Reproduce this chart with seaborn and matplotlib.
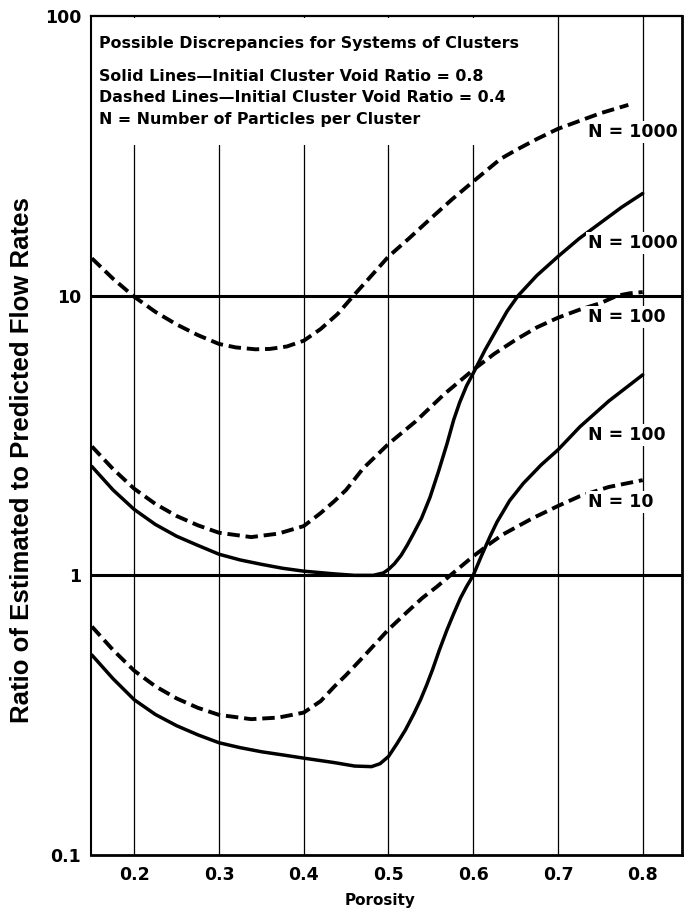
import matplotlib
matplotlib.use("Agg")
import matplotlib.pyplot as plt
from matplotlib.patches import Rectangle
from matplotlib.ticker import NullLocator
import seaborn as sns

# Porosity axis ticks
porosity_ticks = [0.2, 0.3, 0.4, 0.5, 0.6, 0.7, 0.8]
porosity_tick_labels = ["0.2", "0.3", "0.4", "0.5", "0.6", "0.7", "0.8"]
ratio_ticks = [0.1, 1, 10, 100]
ratio_tick_labels = ["0.1", "1", "10", "100"]

# Dashed, N = 1000 (initial cluster void ratio 0.4)
porosity_d1000 = [0.15, 0.175, 0.2, 0.225, 0.25, 0.275, 0.3, 0.32, 0.343, 0.36, 0.38, 0.4,
                  0.42, 0.44, 0.46, 0.48, 0.5, 0.525, 0.55, 0.575, 0.6, 0.632, 0.65, 0.675,
                  0.7, 0.75, 0.783]
ratio_d1000 = [13.6, 11.5, 9.91, 8.75, 7.89, 7.23, 6.72, 6.53, 6.43, 6.45, 6.58, 6.9,
               7.6, 8.6, 10.1, 11.8, 13.8, 16.1, 18.9, 22.1, 25.6, 30.8, 33.1, 36.3,
               39.5, 44.9, 48.1]

# Solid, N = 1000 (initial cluster void ratio 0.8)
porosity_s1000 = [0.15, 0.175, 0.2, 0.225, 0.25, 0.275, 0.3, 0.325, 0.35, 0.375, 0.4, 0.436,
                  0.46, 0.482, 0.494, 0.5, 0.507, 0.515, 0.522, 0.529, 0.539, 0.549, 0.559,
                  0.569, 0.577, 0.584, 0.592, 0.6, 0.614, 0.628, 0.64, 0.653, 0.675, 0.7,
                  0.725, 0.75, 0.775, 0.8]
ratio_s1000 = [2.45, 2.02, 1.72, 1.52, 1.38, 1.28, 1.19, 1.135, 1.095, 1.06, 1.035, 1.012,
               1.0, 1.0, 1.02, 1.05, 1.1, 1.18, 1.28, 1.4, 1.6, 1.9, 2.35,
               2.95, 3.6, 4.15, 4.75, 5.28, 6.4, 7.6, 8.8, 10.0, 11.8, 13.8,
               16.0, 18.2, 20.7, 23.2]

# Dashed, N = 100
porosity_d100 = [0.15, 0.175, 0.2, 0.225, 0.25, 0.275, 0.3, 0.338, 0.37, 0.4, 0.42, 0.436,
                 0.45, 0.47, 0.5, 0.532, 0.566, 0.6, 0.625, 0.65, 0.675, 0.7, 0.725, 0.75,
                 0.77, 0.785, 0.8]
ratio_d100 = [2.89, 2.4, 2.04, 1.8, 1.63, 1.51, 1.42, 1.37, 1.41, 1.5, 1.67, 1.84,
              2.02, 2.41, 2.95, 3.55, 4.45, 5.43, 6.2, 6.95, 7.7, 8.34, 8.9, 9.4,
              10.0, 10.2, 10.3]

# Solid, N = 100
porosity_s100 = [0.15, 0.175, 0.2, 0.225, 0.25, 0.275, 0.3, 0.325, 0.35, 0.375, 0.4, 0.436,
                 0.46, 0.48, 0.49, 0.5, 0.51, 0.52, 0.53, 0.538, 0.545, 0.552, 0.56, 0.569,
                 0.577, 0.585, 0.592, 0.6, 0.61, 0.62, 0.628, 0.643, 0.659, 0.68, 0.7,
                 0.726, 0.76, 0.8]
ratio_s100 = [0.519, 0.427, 0.359, 0.318, 0.29, 0.269, 0.252, 0.242, 0.234, 0.228, 0.222, 0.214,
              0.208, 0.207, 0.212, 0.225, 0.25, 0.28, 0.32, 0.36, 0.405, 0.46, 0.54, 0.638,
              0.73, 0.83, 0.91, 1.0, 1.18, 1.38, 1.55, 1.85, 2.13, 2.48, 2.81,
              3.4, 4.2, 5.21]

# Dashed, N = 10
porosity_d10 = [0.15, 0.175, 0.2, 0.225, 0.25, 0.275, 0.3, 0.338, 0.37, 0.4, 0.42, 0.436,
                0.45, 0.47, 0.5, 0.52, 0.54, 0.557, 0.573, 0.6, 0.62, 0.635, 0.67, 0.7,
                0.726, 0.76, 0.8]
ratio_d10 = [0.656, 0.541, 0.456, 0.401, 0.363, 0.336, 0.317, 0.306, 0.31, 0.323, 0.355, 0.4,
             0.44, 0.51, 0.64, 0.73, 0.83, 0.91, 1.0, 1.17, 1.3, 1.4, 1.6, 1.77,
             1.92, 2.07, 2.19]

curve_labels = ["N = 1000", "N = 1000", "N = 100", "N = 100", "N = 10"]

sns.set_theme(style="white")
plt.rcParams["font.family"] = ["DejaVu Sans"]
plt.rcParams["font.weight"] = "bold"

fig = plt.figure(figsize=(6.84, 9.14), dpi=100)
ax = fig.add_axes([91 / 684, 59 / 914, 590.7 / 684, 839 / 914])

dash = (0, (3.2, 1.5))
series = [
    (porosity_d1000, ratio_d1000, dash, 2.8),
    (porosity_s1000, ratio_s1000, "-", 2.5),
    (porosity_d100, ratio_d100, dash, 2.8),
    (porosity_s100, ratio_s100, "-", 2.5),
    (porosity_d10, ratio_d10, dash, 2.8),
]
for xs, ys, ls, lw in series:
    sns.lineplot(x=xs, y=ys, ax=ax, color="black", linestyle=ls, linewidth=lw,
                 estimator=None, sort=False, zorder=3)

ax.set_yscale("log")
ax.set_ylim(0.1, 100)
ax.set_xlim(0.149, 0.846)
ax.set_yticks(ratio_ticks)
ax.set_yticklabels(ratio_tick_labels)
ax.yaxis.set_minor_locator(NullLocator())
ax.set_xticks(porosity_ticks)
ax.set_xticklabels(porosity_tick_labels)
ax.tick_params(axis="both", length=0, labelsize=12.5, colors="black")
ax.tick_params(axis="y", pad=7)
ax.tick_params(axis="x", pad=8)

# grid: thin verticals at each porosity tick, heavy rules at 1 and 10
ax.set_axisbelow(True)
ax.xaxis.grid(True, color="black", linewidth=0.9)
ax.yaxis.grid(False)
for yv in ratio_ticks[1:3]:
    ax.axhline(yv, color="black", linewidth=2.2, zorder=1)

for side, lw in [("left", 1.5), ("bottom", 2.0), ("top", 1.6), ("right", 2.0)]:
    ax.spines[side].set_visible(True)
    ax.spines[side].set_color("black")
    ax.spines[side].set_linewidth(lw)

# caption block in the upper left corner
ax.add_patch(Rectangle((0.004, 0.846), 0.694, 0.152, transform=ax.transAxes,
                       facecolor="white", edgecolor="none", zorder=1.5))
caption = [
    (0.967, "Possible Discrepancies for Systems of Clusters"),
    (0.928, "Solid Lines\u2014Initial Cluster Void Ratio = 0.8"),
    (0.903, "Dashed Lines\u2014Initial Cluster Void Ratio = 0.4"),
    (0.877, "N = Number of Particles per Cluster"),
]
for yy, txt in caption:
    ax.text(0.013, yy, txt, transform=ax.transAxes, ha="left", va="center",
            fontsize=11.4, color="black", zorder=2)

label_y = [0.862, 0.729, 0.641, 0.501, 0.421]
for yy, txt in zip(label_y, curve_labels):
    ax.text(0.841, yy, txt, transform=ax.transAxes, ha="left", va="center",
            fontsize=12.5, color="black", zorder=4,
            bbox=dict(facecolor="white", edgecolor="none", pad=1.5))

ax.set_xlabel("Porosity", fontsize=11, fontweight="bold", color="black")
ax.xaxis.set_label_coords(0.489, -0.054)
ax.xaxis.label.set_va("center")
ax.set_ylabel("Ratio of Estimated to Predicted Flow Rates", fontsize=18.5,
              fontweight="bold", color="black",
              family=["Liberation Sans", "DejaVu Sans"])
ax.yaxis.set_label_coords(-0.117, 0.471)
ax.yaxis.label.set_va("center")

fig.savefig("out.png", dpi=100)
